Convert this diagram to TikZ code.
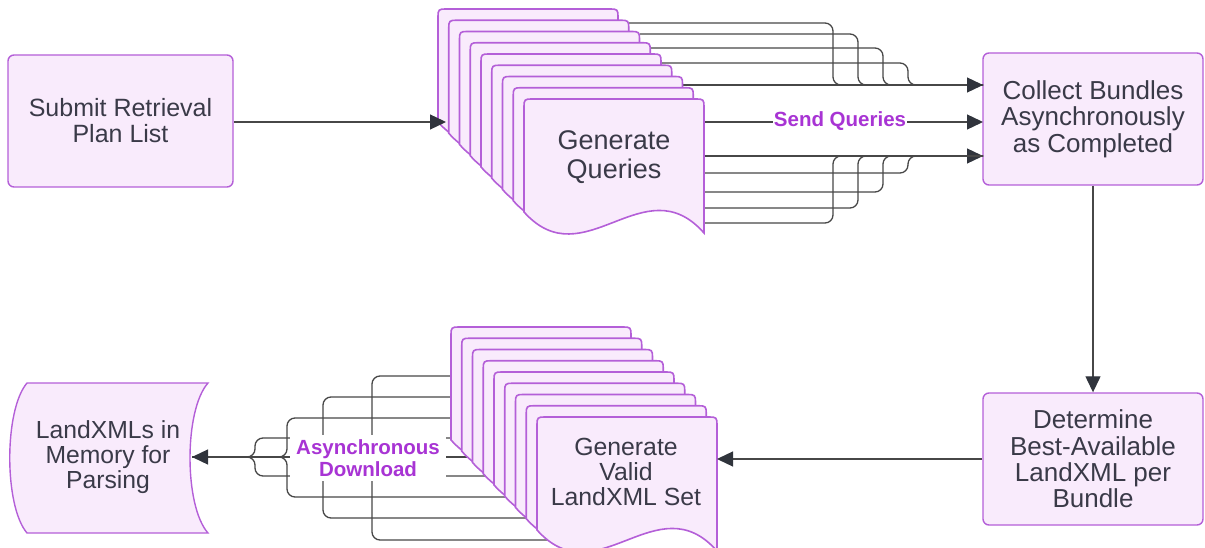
\documentclass[tikz,border=0pt]{standalone}
\usepackage{fontspec}
\setmainfont{Liberation Sans}
\usetikzlibrary{arrows.meta}

\definecolor{boxfill}{HTML}{F9EBFC}
\definecolor{boxline}{HTML}{B45FD8}
\definecolor{labelpurple}{HTML}{A834D4}
\definecolor{ink}{HTML}{3A3A48}
\definecolor{wirec}{HTML}{474747}
\definecolor{tipc}{HTML}{30343C}

\tikzset{
  box/.style={draw=boxline, fill=boxfill, line width=1.4pt, rounded corners=6pt,
    align=center, text=ink, inner sep=0pt},
  sheet/.style={draw=boxline, fill=boxfill, line width=1.6pt},
  sheettext/.style={align=center, text=ink, inner sep=0pt},
  wire/.style={draw=wirec, line width=1.3pt, rounded corners=8pt},
  tip/.style={-{Triangle[length=16pt,width=15pt,color=tipc]}},
  flowlabel/.style={text=labelpurple, fill=white, align=center,
    font=\bfseries\fontsize{20.5}{22}\selectfont, inner xsep=6pt, inner ysep=4pt}
}

% one page of a stacked document: #1,#2 = top-left corner
\newcommand\sheetat[2]{%
  \filldraw[sheet] (#1,#2+113) -- (#1,#2+7)
    .. controls (#1,#2+1) and (#1+1,#2) .. (#1+7,#2) -- (#1+173,#2)
    .. controls (#1+179,#2) and (#1+180,#2+1) .. (#1+180,#2+7)
    -- (#1+180,#2+134)
    .. controls (#1+120,#2+66) and (#1+60,#2+180) .. (#1,#2+113) -- cycle;}

\begin{document}
\begin{tikzpicture}[x=1pt,y=-1pt]
\useasboundingbox (0,0) rectangle (1205,548);

% ---------- process boxes ----------
\node[box, minimum width=225, minimum height=132,
      font=\fontsize{25}{26}\selectfont] (submit) at (120.5,121)
  {Submit Retrieval\\Plan List};
\node[box, minimum width=220, minimum height=132,
      font=\fontsize{26}{26.3}\selectfont] (collect) at (1093,119)
  {Collect Bundles\\Asynchronously\\as Completed};
\node[box, minimum width=220, minimum height=132,
      font=\fontsize{26}{26.3}\selectfont] (determine) at (1093,459)
  {Determine\\Best-Available\\LandXML per\\Bundle};

% stored-data shape for the parsed LandXMLs
\filldraw[sheet, line width=1.4pt] (27,383) -- (208,383)
  .. controls (184,410) and (184,506) .. (208,533) -- (27,533)
  .. controls (4,506) and (4,410) .. (27,383) -- cycle;
\node[sheettext, font=\fontsize{24.7}{25}\selectfont] (landxml) at (108,457)
  {LandXMLs in\\Memory for\\Parsing};

% ---------- connection points ----------
% right side of the query stack
\coordinate (qa) at (628.75,23);
\coordinate (qb) at (639.5,34);
\coordinate (qc) at (650.25,48);
\coordinate (qd) at (661,63);
\coordinate (qe) at (682.5,85);
\coordinate (qf) at (704,122);
\coordinate (qg) at (704,156);
\coordinate (qh) at (704,173);
\coordinate (qi) at (704,192);
\coordinate (qj) at (704,208);
\coordinate (qk) at (704,223);
% inputs of the collect box
\coordinate (cin1) at (983,85);
\coordinate (cin2) at (983,122);
\coordinate (cin3) at (983,156);
% entry of the query stack
\coordinate (qin) at (446,122);
% left side of the LandXML stack
\coordinate (va) at (560,376);
\coordinate (vb) at (560,397);
\coordinate (vc) at (560,418);
\coordinate (vd) at (560,438);
\coordinate (ve) at (560,457);
\coordinate (vf) at (560,476);
\coordinate (vg) at (560,497);
\coordinate (vh) at (560,518);
\coordinate (vi) at (560,540);
\coordinate (lxin) at (192,457);
\coordinate (vin) at (717,459);

% ---------- query fan-in ----------
\draw[wire] (qa) -- (833,23) -- (833,85) -- (cin1);
\draw[wire] (qb) -- (858,34) -- (858,85) -- (cin1);
\draw[wire] (qc) -- (883,48) -- (883,85) -- (cin1);
\draw[wire] (qd) -- (908,63) -- (908,85) -- (cin1);
\draw[wire, tip] (qe) -- (cin1);
\draw[wire, tip] (qf) -- (cin2);
\draw[wire, tip] (qg) -- (cin3);
\draw[wire] (qh) -- (908,173) -- (908,156) -- (cin3);
\draw[wire] (qi) -- (883,192) -- (883,156) -- (cin3);
\draw[wire] (qj) -- (858,208) -- (858,156) -- (cin3);
\draw[wire] (qk) -- (833,223) -- (833,156) -- (cin3);
\node[flowlabel, inner xsep=1pt] (send) at (840,121) {Send Queries};

% ---------- download fan-in ----------
\draw[wire] (va) -- (372,376) -- (372,457) -- (lxin);
\draw[wire] (vb) -- (323,397) -- (323,457) -- (lxin);
\draw[wire] (vc) -- (287,418) -- (287,457) -- (lxin);
\draw[wire] (vd) -- (255,438) -- (255,457) -- (lxin);
\draw[wire] (vf) -- (255,476) -- (255,457) -- (lxin);
\draw[wire] (vg) -- (287,497) -- (287,457) -- (lxin);
\draw[wire] (vh) -- (323,518) -- (323,457) -- (lxin);
\draw[wire] (vi) -- (372,540) -- (372,457) -- (lxin);
\draw[wire, tip] (ve) -- (lxin);
\node[flowlabel] (download) at (368,458) {Asynchronous\\Download};

% ---------- document stacks ----------
\foreach \k in {0,...,8} {
  \pgfmathsetmacro\sx{438+10.75*\k}
  \pgfmathsetmacro\sy{9+11.25*\k}
  \sheetat{\sx}{\sy}
}
\node[sheettext, font=\fontsize{27}{29}\selectfont] (queries) at (614,157)
  {Generate\\Queries};

\foreach \k in {0,...,8} {
  \pgfmathsetmacro\sx{451+10.75*\k}
  \pgfmathsetmacro\sy{327+11.25*\k}
  \sheetat{\sx}{\sy}
}
\node[sheettext, font=\fontsize{24.8}{25}\selectfont] (validset) at (626,472)
  {Generate\\Valid\\LandXML Set};

% ---------- main flow ----------
\draw[wire, tip] (submit.east |- qin) -- (qin);
\draw[wire, tip] (collect.south) -- (determine.north);
\draw[wire, tip] (determine.west) -- (vin);
\end{tikzpicture}
\end{document}
